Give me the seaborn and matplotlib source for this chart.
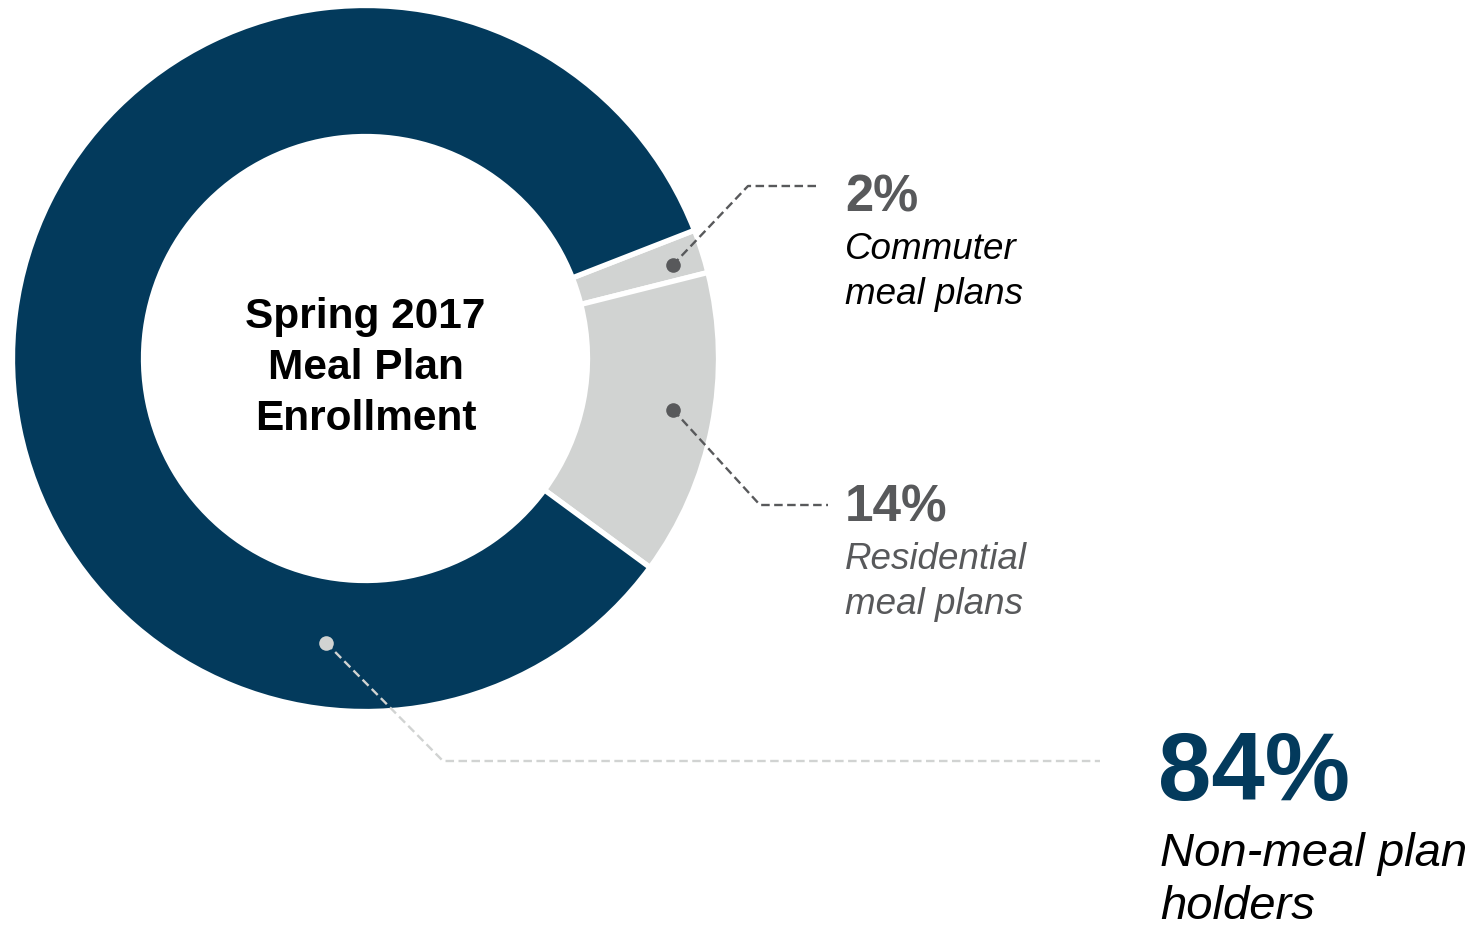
import numpy as np
import matplotlib
matplotlib.use("Agg")
import matplotlib.pyplot as plt
import seaborn as sns

# Enrollment shares (percent), in drawing order clockwise from the top-right
categories = ["Commuter meal plans", "Residential meal plans", "Non-meal plan holders"]
shares = [2, 14, 84]
pct_labels = ["2%", "14%", "84%"]
desc_lines = [["Commuter", "meal plans"], ["Residential", "meal plans"], ["Non-meal plan", "holders"]]
title_lines = ["Spring 2017", "Meal Plan", "Enrollment"]

sns.set_theme(style="white")
plt.rcParams["font.family"] = ["Liberation Sans", "DejaVu Sans"]

NAVY = "#033A5C"
LIGHT = "#D1D3D2"
DARK = "#58595B"
palette = sns.color_palette([LIGHT, LIGHT, NAVY])

W, H = 1478, 928
fig = plt.figure(figsize=(W / 100, H / 100), dpi=100)
ax = fig.add_axes([0, 0, 1, 1])

def Y(y):
    # convert a top-down pixel row to the upward data axis
    return H - y

cx, cy = 365.5, Y(359.5)
R_OUT, RING = 353, 131

wedges, _ = ax.pie(shares, colors=palette, startangle=21.3, counterclock=False,
                   radius=R_OUT, center=(cx, cy),
                   wedgeprops=dict(width=RING, edgecolor="white", linewidth=3.8))
ax.set_xlim(0, W)
ax.set_ylim(0, H)
ax.set_aspect("auto")
ax.axis("off")

# centre title
for i, line in enumerate(title_lines):
    ax.text(cx, Y(328 + 51 * i), line, ha="center", va="baseline",
            fontsize=30.5, fontweight="bold", color="black")

# leader anchors placed inside each ring segment (angle in degrees, radius)
anchors = [(16.9, 321), (-9.5, 312), (262.1, 287)]
elbows = [(748, 187), (760, 506), (443, 762)]
ends = [818, 828, 1100]
line_colors = [DARK, DARK, LIGHT]
dot_colors = [DARK, DARK, LIGHT]

for (ang, r), (ex, ey), end, lc, dc in zip(anchors, elbows, ends, line_colors, dot_colors):
    ax_x = cx + r * np.cos(np.radians(ang))
    ax_y = cy + r * np.sin(np.radians(ang))
    ax.plot([ax_x, ex, end], [ax_y, Y(ey), Y(ey)], color=lc, lw=1.7,
            linestyle=(0, (3.6, 1.9)), solid_capstyle="butt", zorder=3)
    ax.plot([ax_x], [ax_y], marker="o", ms=10.5, color=dc, mec="none", zorder=4)

# value and description labels
ax.text(845, Y(212), pct_labels[0], fontsize=36.5, fontweight="bold", color=DARK, va="baseline")
ax.text(845, Y(259), desc_lines[0][0], fontsize=26.5, style="italic", color="black", va="baseline")
ax.text(845, Y(304), desc_lines[0][1], fontsize=26.5, style="italic", color="black", va="baseline")

ax.text(845, Y(522), pct_labels[1], fontsize=37, fontweight="bold", color=DARK, va="baseline")
ax.text(845, Y(569), desc_lines[1][0], fontsize=26.5, style="italic", color=DARK, va="baseline")
ax.text(845, Y(614), desc_lines[1][1], fontsize=26.5, style="italic", color=DARK, va="baseline")

ax.text(1158, Y(800), pct_labels[2], fontsize=69, fontweight="bold", color=NAVY, va="baseline")
ax.text(1160, Y(866), desc_lines[2][0], fontsize=34, style="italic", color="black", va="baseline")
ax.text(1160, Y(919), desc_lines[2][1], fontsize=34, style="italic", color="black", va="baseline")

fig.savefig("out.png", dpi=100, facecolor="white")
